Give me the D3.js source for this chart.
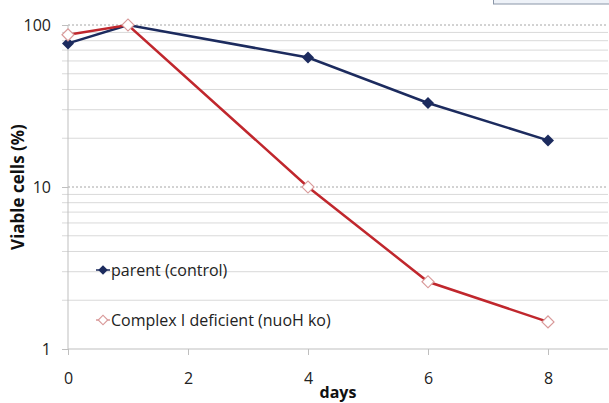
<!DOCTYPE html>
<html>
<head>
<meta charset="utf-8">
<script src="https://cdn.jsdelivr.net/npm/d3@7"></script>
<style>
  body { margin: 0; background: #fff; }
  svg { display: block; font-family: "Open Sans", "Noto Sans", sans-serif; }
</style>
</head>
<body>
<svg id="chart"></svg>
<script>
// set up constants
const width = 609;
const height = 403;
const margin = { top: 25, right: 1, bottom: 54, left: 68 };
const innerWidth = width - margin.left - margin.right;
const innerHeight = height - margin.top - margin.bottom;

// data
const days = [0, 1, 4, 6, 8];
const parentValues = [77, 100, 63, 33, 19.4];
const complexValues = [87, 100, 10, 2.6, 1.47];
const seriesNames = ['parent (control)', 'Complex I deficient (nuoH ko)'];
const xTicks = [0, 2, 4, 6, 8];
const yTicks = [1, 10, 100];

const svg = d3.select('#chart')
  .attr('width', width)
  .attr('height', height);

// scales
const xScale = d3.scaleLinear()
  .domain([0, 9])
  .range([0, innerWidth]);

const yScale = d3.scaleLog()
  .domain([1, 100])
  .range([innerHeight, 0]);

const g = svg.append('g')
  .attr('transform', `translate(${margin.left}, ${margin.top})`);

// minor gridlines
const minorTicks = [];
[1, 10].forEach(dec => {
  for (let k = 2; k <= 9; k++) minorTicks.push(dec * k);
});

g.append('g')
  .selectAll('line')
  .data(minorTicks)
  .enter()
  .append('line')
  .attr('x1', -6)
  .attr('x2', innerWidth)
  .attr('y1', d => yScale(d))
  .attr('y2', d => yScale(d))
  .attr('stroke', '#d9d9d9')
  .attr('stroke-width', 1);

// major gridlines (dotted)
g.append('g')
  .selectAll('line')
  .data([10, 100])
  .enter()
  .append('line')
  .attr('x1', 0)
  .attr('x2', innerWidth)
  .attr('y1', d => yScale(d))
  .attr('y2', d => yScale(d))
  .attr('stroke', '#a6a6a6')
  .attr('stroke-width', 1)
  .attr('stroke-dasharray', '2,2');

// axes
const xAxis = d3.axisBottom(xScale)
  .tickValues(xTicks)
  .tickSize(6)
  .tickPadding(18)
  .tickFormat(d3.format('d'));

const yAxis = d3.axisLeft(yScale)
  .tickValues(yTicks)
  .tickSize(6)
  .tickPadding(11)
  .tickFormat(d3.format('d'));

const gx = g.append('g')
  .attr('transform', `translate(0, ${innerHeight})`)
  .call(xAxis);

const gy = g.append('g')
  .call(yAxis);

[gx, gy].forEach(ax => {
  ax.attr('font-size', null).attr('font-family', null);
  ax.select('.domain').attr('stroke', '#bfbfbf');
  ax.selectAll('.tick line').attr('stroke', '#bfbfbf');
  ax.selectAll('.tick text')
    .attr('fill', '#222')
    .style('font-size', '16px');
});
gy.select('.domain').attr('d', `M0,${innerHeight}V0`);
gx.select('.domain').attr('d', `M0,0H${innerWidth}`);

// axis titles
svg.append('text')
  .attr('x', margin.left + innerWidth / 2)
  .attr('y', 398)
  .attr('text-anchor', 'middle')
  .style('font-size', '16px')
  .style('font-weight', 'bold')
  .attr('fill', '#111')
  .text('days');

svg.append('text')
  .attr('transform', `translate(24, ${margin.top + innerHeight / 2}) rotate(-90)`)
  .attr('text-anchor', 'middle')
  .style('font-size', '17px')
  .style('font-weight', 'bold')
  .attr('fill', '#111')
  .text('Viable cells (%)');

// lines
const line = d3.line()
  .x(d => xScale(d[0]))
  .y(d => yScale(d[1]));

const parentData = days.map((d, i) => [d, parentValues[i]]);
const complexData = days.map((d, i) => [d, complexValues[i]]);

// square rotated 45 degrees = diamond with equal width and height
const diamond = d3.symbol().type(d3.symbolSquare).size(72);

g.append('path')
  .datum(parentData)
  .attr('d', line)
  .attr('fill', 'none')
  .attr('stroke', '#1c2b5e')
  .attr('stroke-width', 2.5);

g.append('path')
  .datum(complexData)
  .attr('d', line)
  .attr('fill', 'none')
  .attr('stroke', '#c0272d')
  .attr('stroke-width', 2.5);

g.selectAll('.pt-parent')
  .data(parentData)
  .enter()
  .append('path')
  .attr('class', 'pt-parent')
  .attr('transform', d => `translate(${xScale(d[0])}, ${yScale(d[1])}) rotate(45)`)
  .attr('d', diamond)
  .attr('fill', '#1c2b5e');

g.selectAll('.pt-complex')
  .data(complexData)
  .enter()
  .append('path')
  .attr('class', 'pt-complex')
  .attr('transform', d => `translate(${xScale(d[0])}, ${yScale(d[1])}) rotate(45)`)
  .attr('d', diamond)
  .attr('fill', '#fff')
  .attr('stroke', '#d99a9a')
  .attr('stroke-width', 1.2);

// legend
const legend = svg.append('g');
const legendItems = [
  { name: seriesNames[0], y: 270, fill: '#1c2b5e', stroke: 'none', lineColor: '#1c2b5e' },
  { name: seriesNames[1], y: 320, fill: '#fff', stroke: '#d99a9a', lineColor: '#d99a9a' }
];

legendItems.forEach(item => {
  legend.append('line')
    .attr('x1', 96).attr('x2', 110)
    .attr('y1', item.y).attr('y2', item.y)
    .attr('stroke', item.lineColor)
    .attr('stroke-width', 1.5);
  legend.append('path')
    .attr('transform', `translate(103, ${item.y}) rotate(45)`)
    .attr('d', d3.symbol().type(d3.symbolSquare).size(45))
    .attr('fill', item.fill)
    .attr('stroke', item.stroke)
    .attr('stroke-width', 1.2);
  legend.append('text')
    .attr('x', 111)
    .attr('y', item.y + 6)
    .style('font-size', '16px')
    .attr('fill', '#222')
    .text(item.name);
});

// partially visible box at top right
svg.append('rect')
  .attr('x', 493.5)
  .attr('y', -10)
  .attr('width', 130)
  .attr('height', 14)
  .attr('fill', '#eef2f8')
  .attr('stroke', '#8a96a8')
  .attr('stroke-width', 1);
</script>
</body>
</html>
